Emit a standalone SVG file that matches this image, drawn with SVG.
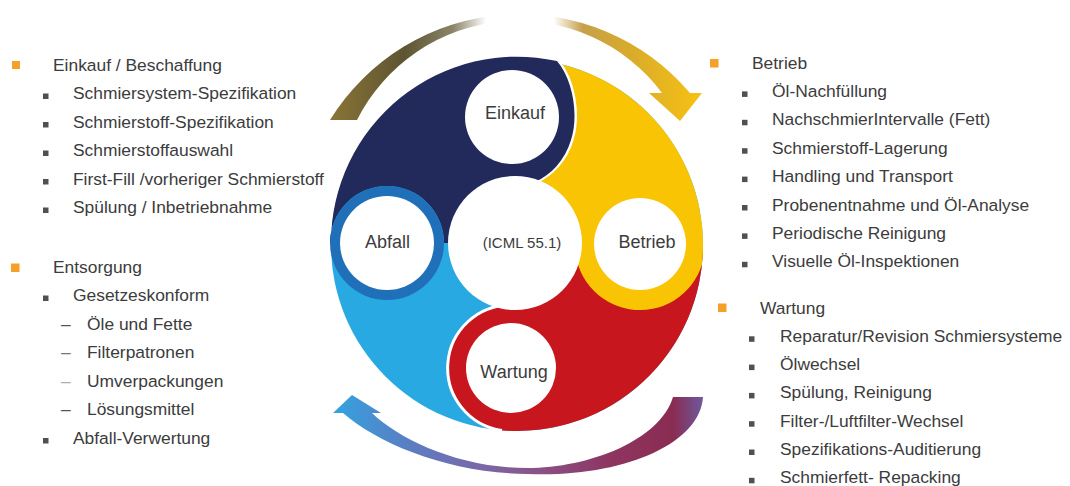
<svg xmlns="http://www.w3.org/2000/svg" width="1070" height="486" viewBox="0 0 1070 486">
<defs>
<linearGradient id="gTop" gradientUnits="userSpaceOnUse" x1="330" y1="0" x2="702" y2="0">
<stop offset="0" stop-color="#8a7536"/>
<stop offset="0.2" stop-color="#5d5432"/>
<stop offset="0.33" stop-color="#8a8468"/>
<stop offset="0.42" stop-color="#ffffff"/>
<stop offset="0.6" stop-color="#ffffff"/>
<stop offset="0.68" stop-color="#c6a04a"/>
<stop offset="0.8" stop-color="#d8aa2c"/>
<stop offset="1" stop-color="#f6c213"/>
</linearGradient>
<linearGradient id="gBot" gradientUnits="userSpaceOnUse" x1="333" y1="0" x2="703" y2="0">
<stop offset="0" stop-color="#33a3df"/>
<stop offset="0.2" stop-color="#5a7ec4"/>
<stop offset="0.4" stop-color="#7a68a8"/>
<stop offset="0.55" stop-color="#8a5288"/>
<stop offset="0.75" stop-color="#8e3560"/>
<stop offset="0.92" stop-color="#8a2c52"/>
<stop offset="1" stop-color="#6c5a9e"/>
</linearGradient>
</defs>
<style>
text{font-family:"Liberation Sans",Arial,sans-serif;fill:#3c3c3c}
.l{font-size:17.4px}
.c{font-size:18px;text-anchor:middle}
.ob{fill:#f4a12a}
.sb{fill:#505050}
.wc{fill:#fff}
.gap{fill:none;stroke:#fff;stroke-width:3}
</style>
<rect width="1070" height="486" fill="#fff"/>

<g id="connectors">
<path id="arrow-top" fill="url(#gTop)" d="M 330,120 A 223 223 0 0 1 690,93 L 702,93 L 680,121 L 649,93 L 662,93 A 180 180 0 0 0 357,120 Z"/>
<path id="arrow-bottom" fill="url(#gBot)" d="M 703,397 C 700,445 620,478 527,474 C 450,473 380,445 343,413 L 333,413 L 352,395 L 381,413 L 372,413 C 400,440 460,468 527,468 C 590,468 660,440 673,397 Z"/>
</g>

<g id="segments">
<circle cx="517" cy="245" r="186" fill="#29a9e1"/>
<path id="seg-wartung" fill="#c8161e" d="M 515,243 L 703,245 A 186 186 0 0 1 502,430.4 A 63 63 0 0 1 511,305 Z"/>
<path class="gap" d="M 502,430.4 A 63 63 0 0 1 511,305"/>
<path id="seg-betrieb" fill="#f9c404" d="M 517,59 A 186 186 0 0 1 702,264.6 A 65 65 0 0 1 575,244 L 515,243 Z"/>
<path class="gap" stroke-width="2.5" d="M 558,61 C 574,80 580,115 572,140 C 566,160 552,175 536,182"/>
<path id="seg-einkauf" fill="#222a5c" d="M 331,243 A 186 186 0 0 1 557,61 C 573,80 579,115 571,140 C 565,160 551,175 535,182 L 515,243 L 444,243 A 57 57 0 0 0 330,243 Z"/>
</g>

<g id="center">
<circle cx="515" cy="243" r="67" class="wc"/>
<text x="522" y="248" font-size="15" text-anchor="middle">(ICML 55.1)</text>
</g>
<g id="einkauf">
<circle cx="512" cy="117" r="47" class="wc"/>
<text class="c" x="515" y="118.5">Einkauf</text>
</g>
<g id="betrieb">
<circle cx="640" cy="244" r="46" class="wc"/>
<text class="c" x="647" y="247.5">Betrieb</text>
</g>
<g id="wartung">
<circle cx="511" cy="368" r="45" class="wc"/>
<text class="c" x="514" y="378">Wartung</text>
</g>
<g id="abfall">
<circle cx="387" cy="243" r="57" fill="#1f70b8"/>
<circle cx="387" cy="243" r="47" class="wc"/>
<text class="c" x="387.5" y="247.5">Abfall</text>
</g>

<g id="list-einkauf">
<rect class="ob" x="12" y="61" width="8" height="8"/>
<text class="l" x="53" y="70.5">Einkauf / Beschaffung</text>
<rect class="sb" x="43" y="93.5" width="5.5" height="5.5"/>
<text class="l" x="73" y="99">Schmiersystem-Spezifikation</text>
<rect class="sb" x="43" y="122" width="5.5" height="5.5"/>
<text class="l" x="73" y="127.5">Schmierstoff-Spezifikation</text>
<rect class="sb" x="43" y="150.5" width="5.5" height="5.5"/>
<text class="l" x="73" y="156">Schmierstoffauswahl</text>
<rect class="sb" x="43" y="179" width="5.5" height="5.5"/>
<text class="l" x="73" y="184.5">First-Fill /vorheriger Schmierstoff</text>
<rect class="sb" x="43" y="207.5" width="5.5" height="5.5"/>
<text class="l" x="73" y="213">Spülung / Inbetriebnahme</text>
</g>

<g id="list-entsorgung">
<rect class="ob" x="11" y="263.5" width="8.5" height="8.5"/>
<text class="l" x="53" y="272.5">Entsorgung</text>
<rect class="sb" x="43" y="295.5" width="5.5" height="5.5"/>
<text class="l" x="73" y="301">Gesetzeskonform</text>
<text class="l" x="61" y="329.5" style="fill:#555">–</text>
<text class="l" x="87" y="329.5">Öle und Fette</text>
<text class="l" x="61" y="358" style="fill:#777">–</text>
<text class="l" x="87" y="358">Filterpatronen</text>
<text class="l" x="61" y="386.5" style="fill:#b0b0b0">–</text>
<text class="l" x="87" y="386.5">Umverpackungen</text>
<text class="l" x="61" y="415" style="fill:#555">–</text>
<text class="l" x="87" y="415">Lösungsmittel</text>
<rect class="sb" x="43" y="438" width="5.5" height="5.5"/>
<text class="l" x="73" y="443.5">Abfall-Verwertung</text>
</g>

<g id="list-betrieb">
<rect class="ob" x="710" y="59" width="8.5" height="8.5"/>
<text class="l" x="752" y="68.5">Betrieb</text>
<rect class="sb" x="742" y="91.4" width="5.5" height="5.5"/>
<text class="l" x="772" y="96.9">Öl-Nachfüllung</text>
<rect class="sb" x="742" y="119.8" width="5.5" height="5.5"/>
<text class="l" x="772" y="125.3">NachschmierIntervalle (Fett)</text>
<rect class="sb" x="742" y="148.2" width="5.5" height="5.5"/>
<text class="l" x="772" y="153.7">Schmierstoff-Lagerung</text>
<rect class="sb" x="742" y="176.6" width="5.5" height="5.5"/>
<text class="l" x="772" y="182.1">Handling und Transport</text>
<rect class="sb" x="742" y="205" width="5.5" height="5.5"/>
<text class="l" x="772" y="210.5">Probenentnahme und Öl-Analyse</text>
<rect class="sb" x="742" y="233.4" width="5.5" height="5.5"/>
<text class="l" x="772" y="238.9">Periodische Reinigung</text>
<rect class="sb" x="742" y="261.8" width="5.5" height="5.5"/>
<text class="l" x="772" y="267.3">Visuelle Öl-Inspektionen</text>
</g>

<g id="list-wartung">
<rect class="ob" x="718" y="303.5" width="8.5" height="8.5"/>
<text class="l" x="760" y="313.5">Wartung</text>
<rect class="sb" x="749" y="336.3" width="5.5" height="5.5"/>
<text class="l" x="780" y="341.8">Reparatur/Revision Schmiersysteme</text>
<rect class="sb" x="749" y="364.6" width="5.5" height="5.5"/>
<text class="l" x="780" y="370.1">Ölwechsel</text>
<rect class="sb" x="749" y="392.9" width="5.5" height="5.5"/>
<text class="l" x="780" y="398.4">Spülung, Reinigung</text>
<rect class="sb" x="749" y="421.2" width="5.5" height="5.5"/>
<text class="l" x="780" y="426.7">Filter-/Luftfilter-Wechsel</text>
<rect class="sb" x="749" y="449.5" width="5.5" height="5.5"/>
<text class="l" x="780" y="455">Spezifikations-Auditierung</text>
<rect class="sb" x="749" y="477.8" width="5.5" height="5.5"/>
<text class="l" x="780" y="483.3">Schmierfett- Repacking</text>
</g>
</svg>
